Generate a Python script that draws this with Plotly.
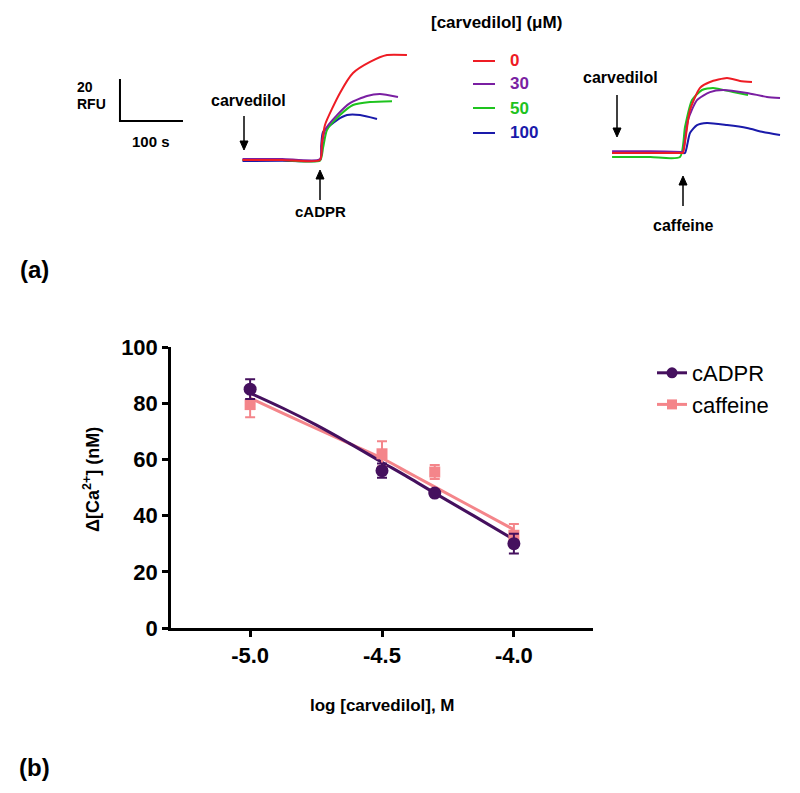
import plotly.graph_objects as go

# page body has an 8px margin: figure is 784x777 so the page is 800x793
OFF = 8
W, H = 800 - 2 * OFF, 793 - 2 * OFF
def PX(x): return (x - OFF) / W
def PY(y): return 1 - (y - OFF) / H

FONT = "Arial, Liberation Sans, sans-serif"

# ---------------- panel (b) data ----------------
log_conc = [-5.0, -4.5, -4.3, -4.0]
cadpr_mean = [85, 56, 48, 30]
cadpr_err = [3.5, 2.5, 1.0, 3.5]
caff_mean = [79.5, 62, 55.5, 33]
caff_err = [4.5, 4.5, 2.5, 4.0]

# fitted curves
fit_x = [-5.0, -4.875, -4.75, -4.625, -4.5, -4.4, -4.3, -4.15, -4.0]
cadpr_fit = [83.6, 78.2, 72.3, 65.8, 59.0, 53.6, 48.0, 39.8, 31.5]
caff_fit = [81.8, 76.4, 71.0, 65.7, 60.4, 55.3, 50.2, 42.6, 35.0]

# ---------------- panel (a) traces: time (s) rel. to addition, RFU rel. baseline ----------------
concs = ["0", "30", "50", "100"]
trace_colors = ["#ee1c24", "#7a1fa2", "#1ec31e", "#1a1aaa"]

# cADPR traces
c_t = {
    "0":   [-123, -60, 0, 3, 7.9, 31.7, 52.4, 79.4, 106.3, 138],
    "30":  [-123, -60, 0, 3, 7.9, 27, 47.6, 74.6, 95.2, 123.8],
    "50":  [-123, -60, 0, 5, 11.1, 31.7, 52.4, 79.4, 114.3],
    "100": [-123, -60, 0, 2, 4.8, 27, 42.9, 63.5, 90.5],
}
c_y = {
    "0":   [0, 0, 0, 8, 16.7, 31.9, 41.4, 46.7, 50, 50],
    "30":  [0.5, 0.5, 0.3, 7, 14.3, 21.4, 27.1, 30.5, 31.4, 30],
    "50":  [0, 0, -0.3, 6, 14.3, 21.4, 26.2, 27.6, 28],
    "100": [-0.5, -0.3, 0, 7, 13.3, 19, 21.4, 21.4, 19.5],
}
# caffeine traces
f_t = {
    "0":   [-111, -50, 0, 1.6, 12.7, 28.6, 44.4, 71.4, 92.1, 111.1],
    "30":  [-111, -50, 0, 1.6, 9.5, 23.8, 44.4, 65.1, 103.2, 134.9, 155.6],
    "50":  [-111, -50, -3.2, 4.8, 15.9, 31.7, 49.2, 81, 104.8],
    "100": [-111, -50, 0, 4.8, 12.7, 23.8, 39.7, 71.4, 103.2, 128.6, 155.6],
}
f_y = {
    "0":   [0, 0, 0, 0, 20.5, 31, 33.8, 35.7, 34.3, 33.8],
    "30":  [0.8, 0.8, 0.5, 0.5, 15.7, 25.2, 29, 30, 28.6, 26.7, 26.2],
    "50":  [-1.9, -1.9, -1.9, 12.4, 25.2, 30, 31, 29, 27.6],
    "100": [0, 0, 0, 0, 9.5, 13.3, 14.3, 13.3, 11.9, 10, 8.6],
}

scale_rfu = 20
scale_s = 100

fig = go.Figure()

# ---------- panel (b) ----------
cad_col = "#45105e"
caf_col = "#f4858a"

fig.add_trace(go.Scatter(x=fit_x, y=caff_fit, mode="lines", line=dict(color=caf_col, width=3, shape="spline"),
                         showlegend=False, xaxis="x", yaxis="y"))
fig.add_trace(go.Scatter(x=fit_x, y=cadpr_fit, mode="lines", line=dict(color=cad_col, width=3, shape="spline"),
                         showlegend=False, xaxis="x", yaxis="y"))
fig.add_trace(go.Scatter(x=log_conc, y=caff_mean, mode="markers",
                         marker=dict(symbol="square", size=11, color=caf_col),
                         error_y=dict(type="data", array=caff_err, color=caf_col, thickness=2, width=5),
                         showlegend=False, xaxis="x", yaxis="y"))
fig.add_trace(go.Scatter(x=log_conc, y=cadpr_mean, mode="markers",
                         marker=dict(symbol="circle", size=13, color=cad_col),
                         error_y=dict(type="data", array=cadpr_err, color=cad_col, thickness=2, width=5),
                         showlegend=False, xaxis="x", yaxis="y"))
# legend entries
fig.add_trace(go.Scatter(x=[None], y=[None], mode="lines+markers", name="cADPR",
                         marker=dict(symbol="circle", size=11, color=cad_col), line=dict(color=cad_col, width=3)))
fig.add_trace(go.Scatter(x=[None], y=[None], mode="lines+markers", name="caffeine",
                         marker=dict(symbol="square", size=10, color=caf_col), line=dict(color=caf_col, width=3)))

# ---------- panel (a) ----------
order = [3, 2, 1, 0]  # draw red on top
for i in order:
    c, col = concs[i], trace_colors[i]
    fig.add_trace(go.Scatter(x=c_t[c], y=c_y[c], mode="lines", line=dict(color=col, width=2, shape="spline", smoothing=0.6),
                             showlegend=False, xaxis="x2", yaxis="y2"))
for i in order:
    c, col = concs[i], trace_colors[i]
    fig.add_trace(go.Scatter(x=f_t[c], y=f_y[c], mode="lines", line=dict(color=col, width=2, shape="spline", smoothing=0.6),
                             showlegend=False, xaxis="x3", yaxis="y3"))

# scale bar (in left-trace units)
sb_t0, sb_y0 = -317.5, 18.6
fig.add_trace(go.Scatter(x=[sb_t0, sb_t0, sb_t0 + scale_s], y=[sb_y0 + scale_rfu, sb_y0, sb_y0],
                         mode="lines", line=dict(color="black", width=2), showlegend=False,
                         xaxis="x2", yaxis="y2"))

# left axes: px 100..420, py 40..200 ; 0.63 px/s, 2.1 px/RFU; t=0 at px 320, RFU0 at py 160
fig.update_layout(
    xaxis2=dict(domain=[PX(100), PX(420)], range=[(100 - 320) / 0.63, (420 - 320) / 0.63], visible=False,
                anchor="y2", automargin=False),
    yaxis2=dict(domain=[PY(200), PY(40)], range=[(160 - 200) / 2.1, (160 - 40) / 2.1], visible=False,
                anchor="x2", automargin=False),
    xaxis3=dict(domain=[PX(590), PX(792)], range=[(590 - 682) / 0.63, (792 - 682) / 0.63], visible=False,
                anchor="y3", automargin=False),
    yaxis3=dict(domain=[PY(200), PY(40)], range=[(153 - 200) / 2.1, (153 - 40) / 2.1], visible=False,
                anchor="x3", automargin=False),
)

annotations = []
shapes = []
def txt(x, y, s, size=14, color="black", bold=True, xanchor="center"):
    annotations.append(dict(x=PX(x), y=PY(y), xref="paper", yref="paper", text=(f"<b>{s}</b>" if bold else s),
                            showarrow=False, font=dict(family=FONT, size=size, color=color),
                            xanchor=xanchor, yanchor="middle"))
def arrow(x, y_head, y_tail):
    d = 1 if y_tail > y_head else -1  # tail below head -> arrow pointing up
    hl, hw = 9, 4
    shapes.append(dict(type="line", xref="paper", yref="paper", x0=PX(x), x1=PX(x),
                       y0=PY(y_tail), y1=PY(y_head + d * hl), line=dict(color="black", width=1.5)))
    path = (f"M {PX(x)} {PY(y_head)} L {PX(x - hw)} {PY(y_head + d * hl)} "
            f"L {PX(x + hw)} {PY(y_head + d * hl)} Z")
    shapes.append(dict(type="path", xref="paper", yref="paper", path=path,
                       fillcolor="black", line=dict(color="black", width=1)))

txt(75, 87, "20", 14, xanchor="left")
txt(75, 104, "RFU", 14, xanchor="left")
txt(151, 141, "100 s", 15)
txt(248, 100, "carvedilol", 16)
arrow(244, 150, 116)
arrow(320, 170, 200)
txt(320, 212, "cADPR", 15)
txt(496, 23, "[carvedilol] (μM)", 17)
leg_y = [61, 84, 108, 133]
for i, (c, col) in enumerate(zip(concs, trace_colors)):
    txt(508, leg_y[i], c, 17, color=col, xanchor="left")
    shapes.append(dict(type="line", xref="paper", yref="paper", x0=PX(473), x1=PX(495),
                       y0=PY(leg_y[i]), y1=PY(leg_y[i]), line=dict(color=col, width=2)))
txt(620, 78, "carvedilol", 16)
arrow(617, 137, 95)
arrow(683, 176, 206)
txt(683, 225, "caffeine", 16)
txt(34, 270, "(a)", 24)
txt(34, 767, "(b)", 24)
txt(382, 705, "log [carvedilol], M", 17)
annotations.append(dict(x=PX(91), y=PY(480), xref="paper", yref="paper",
                        text="<b>Δ[Ca<sup>2+</sup>] (nM)</b>", showarrow=False, textangle=-90,
                        font=dict(family=FONT, size=18, color="black"), xanchor="center", yanchor="middle"))

fig.update_layout(
    width=W, height=H, margin=dict(l=0, r=0, t=0, b=0, autoexpand=False),
    paper_bgcolor="white", plot_bgcolor="white",
    font=dict(family=FONT, color="black"),
    xaxis=dict(domain=[PX(171), PX(593)], range=[-5.3, -3.7], tickvals=[-5.0, -4.5, -4.0],
               ticktext=["-5.0", "-4.5", "-4.0"], showline=True, linecolor="black", linewidth=2.5,
               ticks="outside", ticklen=6, tickwidth=2.5, tickcolor="black", showgrid=False, zeroline=False,
               tickfont=dict(family=FONT, size=22, color="black", weight="bold"), anchor="y",
               automargin=False),
    yaxis=dict(domain=[PY(628), PY(347)], range=[0, 100], tickvals=[0, 20, 40, 60, 80, 100],
               showline=True, linecolor="black", linewidth=2.5,
               ticks="outside", ticklen=6, tickwidth=2.5, tickcolor="black", showgrid=False, zeroline=False,
               tickfont=dict(family=FONT, size=22, color="black", weight="bold"), anchor="x",
               automargin=False),
    legend=dict(x=PX(652), y=PY(352), xanchor="left", yanchor="top", font=dict(family=FONT, size=22),
                bgcolor="rgba(0,0,0,0)", itemwidth=30, tracegroupgap=4),
    annotations=annotations, shapes=shapes,
)

fig.write_html("out.html")
